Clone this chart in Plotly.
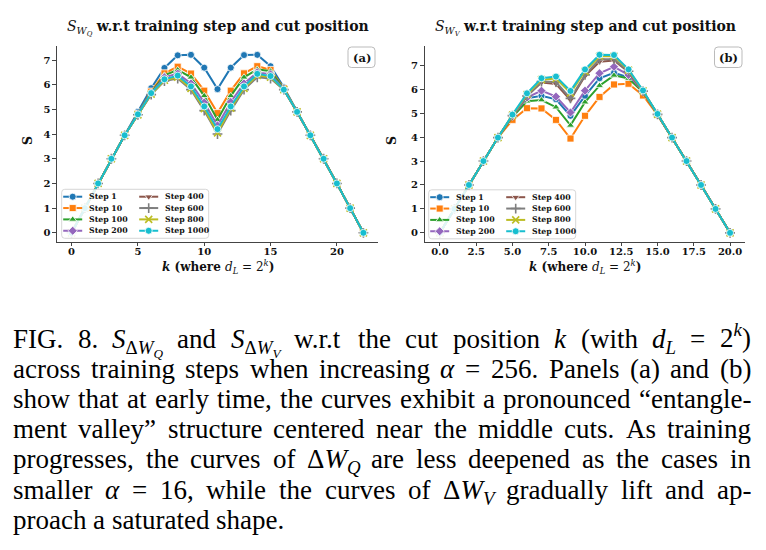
import plotly.graph_objects as go

# ---------------- data ----------------
STEPS = ["Step 1", "Step 10", "Step 100", "Step 200", "Step 400", "Step 600", "Step 800", "Step 1000"]
COLORS = ["#1f77b4", "#ff7f0e", "#2ca02c", "#9467bd", "#8c564b", "#7f7f7f", "#bcbd22", "#17becf"]
SYMBOLS = ["circle", "square", "triangle-up", "diamond", "triangle-down", "cross-thin", "x-thin", "circle"]

# Panel (a): S_{W_Q}, cut position k = 0..22
K_A = list(range(23))
sq_step1 = [0, 1, 2, 3, 3.95, 4.90, 5.86, 6.68, 7.19, 7.21, 6.69, 5.82, 6.69, 7.20, 7.21, 6.75, 5.90, 4.92, 3.96, 3, 2, 1, 0]
sq_step10 = [0, 1, 2, 3, 3.95, 4.82, 5.72, 6.46, 6.73, 6.45, 5.76, 4.85, 5.76, 6.46, 6.75, 6.60, 5.85, 4.90, 3.95, 3, 2, 1, 0]
sq_step100 = [0, 1, 2, 3, 3.95, 4.80, 5.68, 6.38, 6.60, 6.30, 5.55, 4.58, 5.55, 6.30, 6.62, 6.55, 5.83, 4.90, 3.95, 3, 2, 1, 0]
sq_step200 = [0, 1, 2, 3, 3.95, 4.80, 5.66, 6.30, 6.45, 6.05, 5.28, 4.35, 5.30, 6.05, 6.50, 6.42, 5.82, 4.90, 3.95, 3, 2, 1, 0]
sq_step400 = [0, 1, 2, 3, 3.95, 4.78, 5.62, 6.20, 6.30, 5.85, 5.00, 4.10, 5.00, 5.85, 6.35, 6.30, 5.80, 4.90, 3.95, 3, 2, 1, 0]
sq_step600 = [0, 1, 2, 3, 3.95, 4.78, 5.60, 6.15, 6.25, 5.80, 4.95, 4.00, 4.95, 5.80, 6.30, 6.25, 5.80, 4.90, 3.95, 3, 2, 1, 0]
sq_step800 = [0, 1, 2, 3, 3.95, 4.78, 5.62, 6.18, 6.30, 5.85, 5.03, 4.05, 5.05, 5.85, 6.38, 6.30, 5.80, 4.90, 3.95, 3, 2, 1, 0]
sq_step1000 = [0, 1, 2, 3, 3.95, 4.80, 5.66, 6.22, 6.37, 5.93, 5.12, 4.20, 5.12, 5.93, 6.44, 6.35, 5.80, 4.90, 3.95, 3, 2, 1, 0]
SQ_SERIES = [sq_step1, sq_step10, sq_step100, sq_step200, sq_step400, sq_step600, sq_step800, sq_step1000]

# Panel (b): S_{W_V}, cut position k = 0..20
K_B = list(range(21))
sv_step1 = [0, 1, 2, 3, 3.98, 4.88, 5.62, 5.73, 5.58, 4.89, 5.72, 6.46, 6.69, 6.50, 5.88, 4.95, 3.98, 3, 2, 1, 0]
sv_step10 = [0, 1, 2, 3, 3.98, 4.72, 5.21, 5.20, 4.72, 3.94, 4.89, 5.68, 6.20, 6.23, 5.74, 4.93, 3.98, 3, 2, 1, 0]
sv_step100 = [0, 1, 2, 3, 3.98, 4.85, 5.50, 5.55, 5.25, 4.49, 5.46, 6.15, 6.58, 6.45, 5.88, 4.95, 3.98, 3, 2, 1, 0]
sv_step200 = [0, 1, 2, 3, 3.98, 4.88, 5.65, 5.94, 5.69, 5.03, 5.94, 6.67, 6.94, 6.60, 5.90, 4.95, 3.98, 3, 2, 1, 0]
sv_step400 = [0, 1, 2, 3, 3.98, 4.90, 5.72, 6.28, 6.22, 5.55, 6.55, 7.15, 7.20, 6.72, 5.90, 4.95, 3.98, 3, 2, 1, 0]
sv_step600 = [0, 1, 2, 3, 3.98, 4.90, 5.72, 6.32, 6.30, 5.62, 6.60, 7.25, 7.25, 6.75, 5.92, 4.95, 3.98, 3, 2, 1, 0]
sv_step800 = [0, 1, 2, 3, 3.98, 4.92, 5.78, 6.40, 6.45, 5.85, 6.75, 7.38, 7.38, 6.80, 5.93, 4.96, 3.98, 3, 2, 1, 0]
sv_step1000 = [0, 1, 2, 3, 3.98, 4.94, 5.83, 6.46, 6.53, 5.93, 6.83, 7.44, 7.43, 6.83, 5.95, 4.97, 3.98, 3, 2, 1, 0]
SV_SERIES = [sv_step1, sv_step10, sv_step100, sv_step200, sv_step400, sv_step600, sv_step800, sv_step1000]

TICKS_A_X = [0, 5, 10, 15, 20]
TICKS_B_X = [0, 2.5, 5, 7.5, 10, 12.5, 15, 17.5, 20]
TICKS_Y = [0, 1, 2, 3, 4, 5, 6, 7]

CAPTION = [
    "FIG. 8. <i>S</i><sub>Δ<i>W</i><sub><i>Q</i></sub></sub> and <i>S</i><sub>Δ<i>W</i><sub><i>V</i></sub></sub> w.r.t the cut position <i>k</i> (with <i>d</i><sub><i>L</i></sub> = 2<sup><i>k</i></sup>)",
    "across training steps when increasing <i>α</i> = 256. Panels (a) and (b)",
    "show that at early time, the curves exhibit a pronounced “entangle-",
    "ment valley” structure centered near the middle cuts. As training",
    "progresses, the curves of Δ<i>W</i><sub><i>Q</i></sub> are less deepened as the cases in",
    "smaller <i>α</i> = 16, while the curves of Δ<i>W</i><sub><i>V</i></sub> gradually lift and ap-",
    "proach a saturated shape.",
]

# ---------------- layout constants (pixels) ----------------
W, H = 766, 550
SERIF = "DejaVu Serif"
AX_COLOR = "#444444"
CAP_FONT = 27
CAP_LEFT, CAP_RIGHT = 12, 750

# Times / Liberation Serif advance widths (1/1000 em)
TW_REG = dict(zip(" !\"(),-.0123456789=", [250, 333, 408, 333, 333, 250, 333, 250] + [500] * 10 + [564]))
TW_REG.update(dict(zip("ABCDEFGHIJKLMNOPQRSTUVWXYZ",
                       [722, 667, 667, 722, 611, 556, 722, 722, 333, 389, 722, 611, 889, 722, 722, 556, 722, 667, 556, 611, 722, 722, 944, 722, 722, 611])))
TW_REG.update(dict(zip("abcdefghijklmnopqrstuvwxyz",
                       [444, 500, 444, 500, 444, 333, 500, 500, 278, 278, 500, 278, 778, 500, 500, 500, 500, 333, 389, 278, 500, 500, 722, 500, 500, 444])))
TW_REG.update({"“": 444, "”": 444, "Δ": 612, "α": 520})
TW_IT = {"S": 500, "W": 833, "Q": 722, "V": 611, "k": 444, "d": 500, "L": 556, "α": 520}


def html_width(s, size):
    w, italic, depth, i = 0.0, False, 0, 0
    while i < len(s):
        if s[i] == "<":
            j = s.index(">", i)
            tag = s[i + 1:j]
            if tag == "i":
                italic = True
            elif tag == "/i":
                italic = False
            elif tag in ("sub", "sup"):
                depth += 1
            elif tag in ("/sub", "/sup"):
                depth -= 1
            i = j + 1
            continue
        c = s[i]
        cw = TW_IT.get(c, TW_REG.get(c, 500)) if italic else TW_REG.get(c, 500)
        w += cw * size * (0.7 ** depth) / 1000.0
        i += 1
    return w


def rounded_path(x0, y0, x1, y1, r):
    return (f"M {x0+r},{y0} L {x1-r},{y0} Q {x1},{y0} {x1},{y0+r} L {x1},{y1-r} "
            f"Q {x1},{y1} {x1-r},{y1} L {x0+r},{y1} Q {x0},{y1} {x0},{y1-r} "
            f"L {x0},{y0+r} Q {x0},{y0} {x0+r},{y0} Z")


fig = go.Figure()


def marker_style(i):
    if SYMBOLS[i] in ("cross-thin", "x-thin"):
        return dict(symbol=SYMBOLS[i], size=7, color=COLORS[i], line=dict(color=COLORS[i], width=1.6))
    return dict(symbol=SYMBOLS[i], size=7, color=COLORS[i], line=dict(color="white", width=0.8))


for series, kx, xa, ya in [(SQ_SERIES, K_A, "x", "y"), (SV_SERIES, K_B, "x2", "y2")]:
    for i, ys in enumerate(series):
        fig.add_trace(go.Scatter(
            x=kx, y=ys, mode="lines+markers", name=STEPS[i], xaxis=xa, yaxis=ya,
            line=dict(color=COLORS[i], width=2), marker=marker_style(i), showlegend=False,
        ))

# ---------------- custom two-column legends (pixel overlay axis x3/y3) ----------------
shapes = []
annotations = []
LEG_BOXES = [(61.7, 189.3), (428.7, 189.8)]
LEG_W, LEG_H = 147, 49
ROW0, ROW_DY = 7.4, 11.35
for (bx, by) in LEG_BOXES:
    shapes.append(dict(type="path", xref="x3", yref="y3", layer="below",
                       path=rounded_path(bx, by, bx + LEG_W, by + LEG_H, 3),
                       fillcolor="rgba(255,255,255,0.85)", line=dict(color="#cccccc", width=0.8)))
    for i, name in enumerate(STEPS):
        col, row = divmod(i, 4)
        kx0 = bx + 1.5 + col * 76
        kx1 = kx0 + 19
        ky = by + ROW0 + row * ROW_DY
        fig.add_trace(go.Scatter(x=[kx0, kx1], y=[ky, ky], mode="lines", xaxis="x3", yaxis="y3",
                                 line=dict(color=COLORS[i], width=2), showlegend=False, hoverinfo="skip"))
        fig.add_trace(go.Scatter(x=[(kx0 + kx1) / 2], y=[ky], mode="markers", xaxis="x3", yaxis="y3",
                                 marker=marker_style(i), showlegend=False, hoverinfo="skip"))
        annotations.append(dict(x=kx1 + 5, y=ky, xref="x3", yref="y3", text=f"<b>{name}</b>",
                                showarrow=False, xanchor="left", yanchor="middle",
                                font=dict(family=SERIF, size=7.8, color="#111111")))

# panel tags (a) / (b)
for (x0, x1, tag) in [(348, 375, "(a)"), (714.5, 742, "(b)")]:
    shapes.append(dict(type="path", xref="x3", yref="y3", layer="below",
                       path=rounded_path(x0, 47, x1, 67.5, 3.5),
                       fillcolor="white", line=dict(color="#aaaaaa", width=0.8)))
    annotations.append(dict(x=(x0 + x1) / 2, y=57.5, xref="x3", yref="y3", text=f"<b>{tag}</b>",
                            showarrow=False, xanchor="center", yanchor="middle",
                            font=dict(family=SERIF, size=11.5, color="#111111")))

# titles
for cx, sub in [(217.5, "Q"), (585, "V")]:
    annotations.append(dict(
        x=cx, y=28, xref="x3", yref="y3", showarrow=False, xanchor="center", yanchor="middle",
        text=f"<i>S</i><sub><i>W</i><sub><i>{sub}</i></sub></sub> <b>w.r.t training step and cut position</b>",
        font=dict(family=SERIF, size=14, color="#111111")))

# axis labels
for cx in (217.5, 584.7):
    annotations.append(dict(
        x=cx, y=267, xref="x3", yref="y3", showarrow=False, xanchor="center", yanchor="middle",
        text="<b><i>k</i> (where </b><i>d</i><sub><i>L</i></sub> = 2<sup><i>k</i></sup><b>)</b>",
        font=dict(family=SERIF, size=12, color="#111111")))
for cx in (27, 391):
    annotations.append(dict(
        x=cx, y=141, xref="x3", yref="y3", showarrow=False, textangle=-90,
        xanchor="center", yanchor="middle", text="<b>S</b>",
        font=dict(family=SERIF, size=12.5, color="#111111")))

# caption, justified word by word (last line left-aligned)
for li, line in enumerate(CAPTION):
    words = line.split()
    widths = [html_width(w_, CAP_FONT) for w_ in words]
    natural_gap = 0.25 * CAP_FONT
    if li < len(CAPTION) - 1 and len(words) > 1:
        gap = (CAP_RIGHT - CAP_LEFT - sum(widths)) / (len(words) - 1)
    else:
        gap = natural_gap
    top = 321.5 + 30.2 * li
    x = CAP_LEFT
    for w_, ww in zip(words, widths):
        ytop = top - (0.15 * CAP_FONT if "<sup>" in w_ else 0)
        annotations.append(dict(
            x=x - 1, y=ytop, xref="x3", yref="y3", showarrow=False,
            xanchor="left", yanchor="top", text=w_,
            font=dict(family="Liberation Serif", size=CAP_FONT, color="black")))
        x += ww + gap

tickfont = dict(family=SERIF, size=10, color="#111111", weight="bold")
axis_common = dict(showline=True, linecolor=AX_COLOR, linewidth=1.3, ticks="outside", ticklen=3.5,
                   tickwidth=1, tickcolor=AX_COLOR, showgrid=False, zeroline=False, tickfont=tickfont)

YDOM = [1 - 241.7 / H, 1 - 45.7 / H]
fig.update_layout(
    width=W, height=H, margin=dict(l=0, r=0, t=0, b=0),
    paper_bgcolor="white", plot_bgcolor="rgba(0,0,0,0)", showlegend=False,
    xaxis=dict(domain=[57 / W, 378 / W], range=[-1.1, 23.1], anchor="y", tickvals=TICKS_A_X,
               ticklabelstandoff=-3, **axis_common),
    yaxis=dict(domain=YDOM, range=[-0.36, 7.58], anchor="x", tickvals=TICKS_Y, **axis_common),
    xaxis2=dict(domain=[424.7 / W, 745.3 / W], range=[-1.05, 21.05], anchor="y2", tickvals=TICKS_B_X,
                tickformat=".1f", ticklabelstandoff=-3, **axis_common),
    yaxis2=dict(domain=YDOM, range=[-0.37, 7.82], anchor="x2", tickvals=TICKS_Y, **axis_common),
    xaxis3=dict(domain=[0, 1], range=[0, W], anchor="y3", visible=False, fixedrange=True),
    yaxis3=dict(domain=[0, 1], range=[H, 0], anchor="x3", visible=False, fixedrange=True),
    shapes=shapes, annotations=annotations,
)

fig.write_html("out.html")
